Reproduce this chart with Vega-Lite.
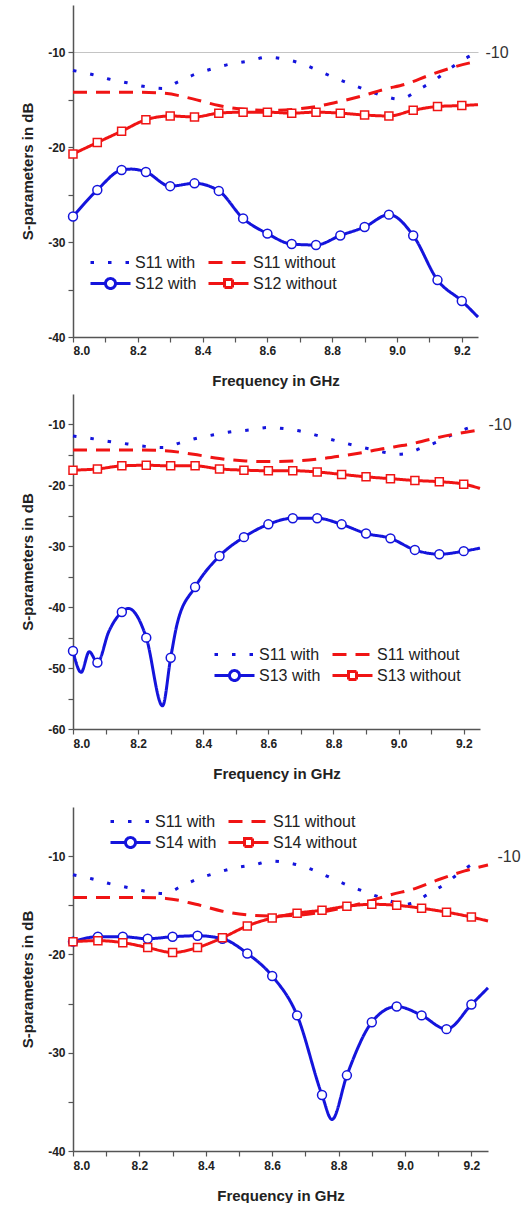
{
"$schema": "https://vega.github.io/schema/vega-lite/v6.json",
"padding": {"left": 20, "top": 5, "right": 5, "bottom": 0},
"config": {
  "view": {"stroke": null},
  "axis": {"labelFont": "Liberation Sans", "labelFontWeight": "bold", "labelFontSize": 12, "labelColor": "#222", "titleFont": "Liberation Sans", "titleFontWeight": "bold", "titleFontSize": 15, "titleColor": "#222", "domainColor": "#555", "domainWidth": 1.5, "tickColor": "#555", "tickSize": 5, "tickWidth": 1.2, "grid": false},
  "legend": {"labelFont": "Liberation Sans", "labelFontSize": 16, "labelColor": "#222", "symbolSize": 1600, "symbolStrokeWidth": 3, "symbolFillColor": "white", "clipHeight": 21, "labelOffset": 3, "columns": 2, "direction": "horizontal", "columnPadding": 10, "rowPadding": 0, "orient": "none"}
},
"datasets": {
  "s11": [
    {"s": "S11 with", "f": 8.0, "v": -11.9}, {"s": "S11 with", "f": 8.056, "v": -12.3}, {"s": "S11 with", "f": 8.11, "v": -12.8}, {"s": "S11 with", "f": 8.167, "v": -13.2}, {"s": "S11 with", "f": 8.222, "v": -13.6}, {"s": "S11 with", "f": 8.278, "v": -13.8}, {"s": "S11 with", "f": 8.324, "v": -13.1}, {"s": "S11 with", "f": 8.377, "v": -12.3}, {"s": "S11 with", "f": 8.432, "v": -11.7}, {"s": "S11 with", "f": 8.488, "v": -11.2}, {"s": "S11 with", "f": 8.543, "v": -10.9}, {"s": "S11 with", "f": 8.6, "v": -10.5}, {"s": "S11 with", "f": 8.651, "v": -10.7}, {"s": "S11 with", "f": 8.707, "v": -11.2}, {"s": "S11 with", "f": 8.756, "v": -11.9}, {"s": "S11 with", "f": 8.809, "v": -12.7}, {"s": "S11 with", "f": 8.861, "v": -13.4}, {"s": "S11 with", "f": 8.917, "v": -14.1}, {"s": "S11 with", "f": 8.969, "v": -14.7}, {"s": "S11 with", "f": 9.0, "v": -14.9}, {"s": "S11 with", "f": 9.022, "v": -14.8}, {"s": "S11 with", "f": 9.068, "v": -13.9}, {"s": "S11 with", "f": 9.117, "v": -12.9}, {"s": "S11 with", "f": 9.16, "v": -11.8}, {"s": "S11 with", "f": 9.213, "v": -10.6}, {"s": "S11 with", "f": 9.23, "v": -10.3},
    {"s": "S11 without", "f": 8.0, "v": -14.2}, {"s": "S11 without", "f": 8.1, "v": -14.2}, {"s": "S11 without", "f": 8.2, "v": -14.2}, {"s": "S11 without", "f": 8.28, "v": -14.3}, {"s": "S11 without", "f": 8.37, "v": -14.9}, {"s": "S11 without", "f": 8.45, "v": -15.6}, {"s": "S11 without", "f": 8.53, "v": -16.0}, {"s": "S11 without", "f": 8.6, "v": -16.1}, {"s": "S11 without", "f": 8.68, "v": -16.0}, {"s": "S11 without", "f": 8.75, "v": -15.7}, {"s": "S11 without", "f": 8.82, "v": -15.2}, {"s": "S11 without", "f": 8.89, "v": -14.6}, {"s": "S11 without", "f": 8.96, "v": -13.9}, {"s": "S11 without", "f": 9.03, "v": -13.3}, {"s": "S11 without", "f": 9.1, "v": -12.4}, {"s": "S11 without", "f": 9.18, "v": -11.5}, {"s": "S11 without", "f": 9.25, "v": -10.9}
  ],
  "p1": [
    {"s": "S12 with", "f": 8.0, "v": -27.3}, {"s": "S12 with", "f": 8.075, "v": -24.5}, {"s": "S12 with", "f": 8.15, "v": -22.4}, {"s": "S12 with", "f": 8.18, "v": -22.3}, {"s": "S12 with", "f": 8.225, "v": -22.6}, {"s": "S12 with", "f": 8.3, "v": -24.1}, {"s": "S12 with", "f": 8.375, "v": -23.8}, {"s": "S12 with", "f": 8.45, "v": -24.6}, {"s": "S12 with", "f": 8.525, "v": -27.5}, {"s": "S12 with", "f": 8.6, "v": -29.1}, {"s": "S12 with", "f": 8.675, "v": -30.2}, {"s": "S12 with", "f": 8.75, "v": -30.3}, {"s": "S12 with", "f": 8.825, "v": -29.3}, {"s": "S12 with", "f": 8.9, "v": -28.4}, {"s": "S12 with", "f": 8.975, "v": -27.1}, {"s": "S12 with", "f": 9.05, "v": -29.3}, {"s": "S12 with", "f": 9.125, "v": -34.0}, {"s": "S12 with", "f": 9.2, "v": -36.2}, {"s": "S12 with", "f": 9.25, "v": -37.9},
    {"s": "S12 without", "f": 8.0, "v": -20.7}, {"s": "S12 without", "f": 8.075, "v": -19.5}, {"s": "S12 without", "f": 8.15, "v": -18.3}, {"s": "S12 without", "f": 8.225, "v": -17.1}, {"s": "S12 without", "f": 8.3, "v": -16.7}, {"s": "S12 without", "f": 8.375, "v": -16.8}, {"s": "S12 without", "f": 8.45, "v": -16.4}, {"s": "S12 without", "f": 8.525, "v": -16.3}, {"s": "S12 without", "f": 8.6, "v": -16.3}, {"s": "S12 without", "f": 8.675, "v": -16.4}, {"s": "S12 without", "f": 8.75, "v": -16.3}, {"s": "S12 without", "f": 8.825, "v": -16.4}, {"s": "S12 without", "f": 8.9, "v": -16.6}, {"s": "S12 without", "f": 8.975, "v": -16.7}, {"s": "S12 without", "f": 9.05, "v": -16.1}, {"s": "S12 without", "f": 9.125, "v": -15.7}, {"s": "S12 without", "f": 9.2, "v": -15.6}, {"s": "S12 without", "f": 9.25, "v": -15.5}
  ],
  "p2": [
    {"s": "S13 with", "f": 8.0, "v": -47.2}, {"s": "S13 with", "f": 8.025, "v": -50.7}, {"s": "S13 with", "f": 8.05, "v": -47.3}, {"s": "S13 with", "f": 8.075, "v": -49.1}, {"s": "S13 with", "f": 8.11, "v": -44.0}, {"s": "S13 with", "f": 8.15, "v": -40.8}, {"s": "S13 with", "f": 8.17, "v": -40.2}, {"s": "S13 with", "f": 8.225, "v": -45.0}, {"s": "S13 with", "f": 8.275, "v": -56.2}, {"s": "S13 with", "f": 8.3, "v": -48.3}, {"s": "S13 with", "f": 8.32, "v": -42.7}, {"s": "S13 with", "f": 8.375, "v": -36.7}, {"s": "S13 with", "f": 8.45, "v": -31.6}, {"s": "S13 with", "f": 8.525, "v": -28.5}, {"s": "S13 with", "f": 8.6, "v": -26.4}, {"s": "S13 with", "f": 8.675, "v": -25.4}, {"s": "S13 with", "f": 8.75, "v": -25.4}, {"s": "S13 with", "f": 8.825, "v": -26.4}, {"s": "S13 with", "f": 8.9, "v": -27.9}, {"s": "S13 with", "f": 8.975, "v": -28.7}, {"s": "S13 with", "f": 9.05, "v": -30.6}, {"s": "S13 with", "f": 9.125, "v": -31.3}, {"s": "S13 with", "f": 9.2, "v": -30.8}, {"s": "S13 with", "f": 9.25, "v": -30.3},
    {"s": "S13 without", "f": 8.0, "v": -17.5}, {"s": "S13 without", "f": 8.075, "v": -17.3}, {"s": "S13 without", "f": 8.15, "v": -16.8}, {"s": "S13 without", "f": 8.225, "v": -16.7}, {"s": "S13 without", "f": 8.3, "v": -16.8}, {"s": "S13 without", "f": 8.375, "v": -16.8}, {"s": "S13 without", "f": 8.45, "v": -17.3}, {"s": "S13 without", "f": 8.525, "v": -17.5}, {"s": "S13 without", "f": 8.6, "v": -17.6}, {"s": "S13 without", "f": 8.675, "v": -17.6}, {"s": "S13 without", "f": 8.75, "v": -17.8}, {"s": "S13 without", "f": 8.825, "v": -18.2}, {"s": "S13 without", "f": 8.9, "v": -18.6}, {"s": "S13 without", "f": 8.975, "v": -18.9}, {"s": "S13 without", "f": 9.05, "v": -19.2}, {"s": "S13 without", "f": 9.125, "v": -19.4}, {"s": "S13 without", "f": 9.2, "v": -19.8}, {"s": "S13 without", "f": 9.25, "v": -20.5}
  ],
  "p3": [
    {"s": "S14 with", "f": 8.0, "v": -18.7}, {"s": "S14 with", "f": 8.075, "v": -18.2}, {"s": "S14 with", "f": 8.15, "v": -18.2}, {"s": "S14 with", "f": 8.225, "v": -18.4}, {"s": "S14 with", "f": 8.3, "v": -18.2}, {"s": "S14 with", "f": 8.375, "v": -18.1}, {"s": "S14 with", "f": 8.45, "v": -18.4}, {"s": "S14 with", "f": 8.525, "v": -19.9}, {"s": "S14 with", "f": 8.6, "v": -22.2}, {"s": "S14 with", "f": 8.675, "v": -26.2}, {"s": "S14 with", "f": 8.75, "v": -34.3}, {"s": "S14 with", "f": 8.78, "v": -36.8}, {"s": "S14 with", "f": 8.825, "v": -32.3}, {"s": "S14 with", "f": 8.9, "v": -26.9}, {"s": "S14 with", "f": 8.975, "v": -25.3}, {"s": "S14 with", "f": 9.05, "v": -26.2}, {"s": "S14 with", "f": 9.125, "v": -27.6}, {"s": "S14 with", "f": 9.2, "v": -25.1}, {"s": "S14 with", "f": 9.25, "v": -23.4},
    {"s": "S14 without", "f": 8.0, "v": -18.7}, {"s": "S14 without", "f": 8.075, "v": -18.6}, {"s": "S14 without", "f": 8.15, "v": -18.8}, {"s": "S14 without", "f": 8.225, "v": -19.3}, {"s": "S14 without", "f": 8.3, "v": -19.8}, {"s": "S14 without", "f": 8.375, "v": -19.3}, {"s": "S14 without", "f": 8.45, "v": -18.3}, {"s": "S14 without", "f": 8.525, "v": -17.1}, {"s": "S14 without", "f": 8.6, "v": -16.3}, {"s": "S14 without", "f": 8.675, "v": -15.8}, {"s": "S14 without", "f": 8.75, "v": -15.5}, {"s": "S14 without", "f": 8.825, "v": -15.1}, {"s": "S14 without", "f": 8.9, "v": -14.9}, {"s": "S14 without", "f": 8.975, "v": -15.0}, {"s": "S14 without", "f": 9.05, "v": -15.3}, {"s": "S14 without", "f": 9.125, "v": -15.7}, {"s": "S14 without", "f": 9.2, "v": -16.2}, {"s": "S14 without", "f": 9.25, "v": -16.6}
  ]
},
"resolve": {"scale": {"x": "independent", "y": "independent", "color": "independent", "strokeDash": "independent"}, "legend": {"color": "independent", "strokeDash": "independent"}},
"spacing": 26,
"vconcat": [
 {
  "spacing": 6,
  "resolve": {"scale": {"x": "independent", "y": "independent", "color": "independent", "strokeDash": "independent"}, "legend": {"color": "independent", "strokeDash": "independent"}},
  "vconcat": [
   {
    "width": 405, "height": 332,
    "resolve": {"axis": {"y": "independent"}},
    "layer": [
     {"data": {"name": "s11"}, "mark": {"type": "line", "interpolate": "monotone", "strokeWidth": 3},
      "encoding": {
       "x": {"field": "f", "type": "quantitative", "scale": {"domain": [8, 9.25], "nice": false, "zero": false}, "axis": {"values": [8, 8.1, 8.2, 8.3, 8.4, 8.5, 8.6, 8.7, 8.8, 8.9, 9, 9.1, 9.2], "labelExpr": "round(datum.value*10) % 2 === 0 ? format(datum.value, '.1f') : ''", "title": "Frequency in GHz", "labelPadding": 3, "titlePadding": 17}},
       "y": {"field": "v", "type": "quantitative", "scale": {"domain": [-40, -5], "nice": false, "zero": false}, "axis": {"values": [-40, -35, -30, -25, -20, -15, -10], "labelExpr": "datum.value % 10 === 0 ? '-' + abs(datum.value) : ''", "title": "S-parameters in dB", "titlePadding": 12, "labelPadding": 3}},
       "color": {"field": "s", "type": "nominal", "scale": {"domain": ["S11 with", "S11 without", "S12 with", "S12 without"], "range": ["#1414dc", "#f01414", "#1414dc", "#f01414"]}, "legend": {"title": null, "legendX": 16, "legendY": 247, "encode": {"symbols": {"update": {"shape": {"signal": "['M-1,0H1','M-1,0H1','M-1,0H-0.25M0.25,0H1M-0.25,0A0.25,0.25,0,1,0,0.25,0A0.25,0.25,0,1,0,-0.25,0Z','M-1,0H-0.2M0.2,0H1M-0.2,-0.2H0.2V0.2H-0.2Z'][datum.index]"}, "fill": {"value": "white"}}}}}},
       "strokeDash": {"field": "s", "type": "nominal", "scale": {"domain": ["S11 with", "S11 without", "S12 with", "S12 without"], "range": [[3.5, 14], [14, 9], [1, 0], [1, 0]]}, "legend": {"title": null, "legendX": 16, "legendY": 247, "encode": {"symbols": {"update": {"shape": {"signal": "['M-1,0H1','M-1,0H1','M-1,0H-0.25M0.25,0H1M-0.25,0A0.25,0.25,0,1,0,0.25,0A0.25,0.25,0,1,0,-0.25,0Z','M-1,0H-0.2M0.2,0H1M-0.2,-0.2H0.2V0.2H-0.2Z'][datum.index]"}, "fill": {"value": "white"}}}}}}
      }},
     {"data": {"name": "p1"}, "mark": {"type": "line", "interpolate": "monotone", "strokeWidth": 3},
      "encoding": {
       "x": {"field": "f", "type": "quantitative", "scale": {"domain": [8, 9.25], "nice": false, "zero": false}, "axis": {"values": [8, 8.1, 8.2, 8.3, 8.4, 8.5, 8.6, 8.7, 8.8, 8.9, 9, 9.1, 9.2], "labelExpr": "round(datum.value*10) % 2 === 0 ? format(datum.value, '.1f') : ''", "title": "Frequency in GHz", "labelPadding": 3, "titlePadding": 17}},
       "y": {"field": "v", "type": "quantitative", "scale": {"domain": [-40, -5], "nice": false, "zero": false}, "axis": null},
       "color": {"field": "s", "type": "nominal", "scale": {"domain": ["S11 with", "S11 without", "S12 with", "S12 without"], "range": ["#1414dc", "#f01414", "#1414dc", "#f01414"]}, "legend": {"title": null, "legendX": 16, "legendY": 247, "encode": {"symbols": {"update": {"shape": {"signal": "['M-1,0H1','M-1,0H1','M-1,0H-0.25M0.25,0H1M-0.25,0A0.25,0.25,0,1,0,0.25,0A0.25,0.25,0,1,0,-0.25,0Z','M-1,0H-0.2M0.2,0H1M-0.2,-0.2H0.2V0.2H-0.2Z'][datum.index]"}, "fill": {"value": "white"}}}}}},
       "strokeDash": {"field": "s", "type": "nominal", "scale": {"domain": ["S11 with", "S11 without", "S12 with", "S12 without"], "range": [[3.5, 14], [14, 9], [1, 0], [1, 0]]}, "legend": {"title": null, "legendX": 16, "legendY": 247, "encode": {"symbols": {"update": {"shape": {"signal": "['M-1,0H1','M-1,0H1','M-1,0H-0.25M0.25,0H1M-0.25,0A0.25,0.25,0,1,0,0.25,0A0.25,0.25,0,1,0,-0.25,0Z','M-1,0H-0.2M0.2,0H1M-0.2,-0.2H0.2V0.2H-0.2Z'][datum.index]"}, "fill": {"value": "white"}}}}}}
      }},
     {"data": {"name": "p1"}, "transform": [{"filter": "abs((datum.f-8)/0.075 - round((datum.f-8)/0.075)) < 0.01 && datum.f < 9.21"}, {"filter": "indexof(datum.s, 'without') < 0"}],
      "mark": {"type": "point", "shape": "circle", "filled": false, "fill": "white", "fillOpacity": 1, "stroke": "#1414dc", "strokeWidth": 1.5, "size": 80, "opacity": 1},
      "encoding": {
       "x": {"field": "f", "type": "quantitative", "scale": {"domain": [8, 9.25], "nice": false, "zero": false}, "axis": {"values": [8, 8.1, 8.2, 8.3, 8.4, 8.5, 8.6, 8.7, 8.8, 8.9, 9, 9.1, 9.2], "labelExpr": "round(datum.value*10) % 2 === 0 ? format(datum.value, '.1f') : ''", "title": "Frequency in GHz", "labelPadding": 3, "titlePadding": 17}},
       "y": {"field": "v", "type": "quantitative", "scale": {"domain": [-40, -5], "nice": false, "zero": false}, "axis": {"orient": "right", "values": [-10], "labelExpr": "'-' + abs(datum.value)", "ticks": false, "domain": false, "title": null, "labelFontWeight": "normal", "labelFontSize": 16, "labelColor": "#333", "labelPadding": 7, "grid": true, "gridColor": "#c4c4c4", "gridWidth": 1}}
      }},
     {"data": {"name": "p1"}, "transform": [{"filter": "abs((datum.f-8)/0.075 - round((datum.f-8)/0.075)) < 0.01 && datum.f < 9.21"}, {"filter": "indexof(datum.s, 'without') >= 0"}],
      "mark": {"type": "point", "shape": "square", "filled": false, "fill": "white", "fillOpacity": 1, "stroke": "#f01414", "strokeWidth": 1.5, "size": 64, "opacity": 1},
      "encoding": {
       "x": {"field": "f", "type": "quantitative", "scale": {"domain": [8, 9.25], "nice": false, "zero": false}, "axis": {"values": [8, 8.1, 8.2, 8.3, 8.4, 8.5, 8.6, 8.7, 8.8, 8.9, 9, 9.1, 9.2], "labelExpr": "round(datum.value*10) % 2 === 0 ? format(datum.value, '.1f') : ''", "title": "Frequency in GHz", "labelPadding": 3, "titlePadding": 17}},
       "y": {"field": "v", "type": "quantitative", "scale": {"domain": [-40, -5], "nice": false, "zero": false}, "axis": null}
      }}
    ]
   },
   {
    "width": 407, "height": 335,
    "resolve": {"axis": {"y": "independent"}},
    "layer": [
     {"data": {"name": "s11"}, "mark": {"type": "line", "interpolate": "monotone", "strokeWidth": 3},
      "encoding": {
       "x": {"field": "f", "type": "quantitative", "scale": {"domain": [8, 9.25], "nice": false, "zero": false}, "axis": {"values": [8, 8.1, 8.2, 8.3, 8.4, 8.5, 8.6, 8.7, 8.8, 8.9, 9, 9.1, 9.2], "labelExpr": "round(datum.value*10) % 2 === 0 ? format(datum.value, '.1f') : ''", "title": "Frequency in GHz", "labelPadding": 4, "titlePadding": 17}},
       "y": {"field": "v", "type": "quantitative", "scale": {"domain": [-60, -5], "nice": false, "zero": false}, "axis": {"values": [-60, -55, -50, -45, -40, -35, -30, -25, -20, -15, -10], "labelExpr": "datum.value % 10 === 0 ? '-' + abs(datum.value) : ''", "title": "S-parameters in dB", "titlePadding": 12, "labelPadding": 3}},
       "color": {"field": "s", "type": "nominal", "scale": {"domain": ["S11 with", "S11 without", "S13 with", "S13 without"], "range": ["#1414dc", "#f01414", "#1414dc", "#f01414"]}, "legend": {"title": null, "legendX": 140, "legendY": 250, "encode": {"symbols": {"update": {"shape": {"signal": "['M-1,0H1','M-1,0H1','M-1,0H-0.25M0.25,0H1M-0.25,0A0.25,0.25,0,1,0,0.25,0A0.25,0.25,0,1,0,-0.25,0Z','M-1,0H-0.2M0.2,0H1M-0.2,-0.2H0.2V0.2H-0.2Z'][datum.index]"}, "fill": {"value": "white"}}}}}},
       "strokeDash": {"field": "s", "type": "nominal", "scale": {"domain": ["S11 with", "S11 without", "S13 with", "S13 without"], "range": [[3.5, 14], [14, 9], [1, 0], [1, 0]]}, "legend": {"title": null, "legendX": 140, "legendY": 250, "encode": {"symbols": {"update": {"shape": {"signal": "['M-1,0H1','M-1,0H1','M-1,0H-0.25M0.25,0H1M-0.25,0A0.25,0.25,0,1,0,0.25,0A0.25,0.25,0,1,0,-0.25,0Z','M-1,0H-0.2M0.2,0H1M-0.2,-0.2H0.2V0.2H-0.2Z'][datum.index]"}, "fill": {"value": "white"}}}}}}
      }},
     {"data": {"name": "p2"}, "mark": {"type": "line", "interpolate": "monotone", "strokeWidth": 3},
      "encoding": {
       "x": {"field": "f", "type": "quantitative", "scale": {"domain": [8, 9.25], "nice": false, "zero": false}, "axis": {"values": [8, 8.1, 8.2, 8.3, 8.4, 8.5, 8.6, 8.7, 8.8, 8.9, 9, 9.1, 9.2], "labelExpr": "round(datum.value*10) % 2 === 0 ? format(datum.value, '.1f') : ''", "title": "Frequency in GHz", "labelPadding": 4, "titlePadding": 17}},
       "y": {"field": "v", "type": "quantitative", "scale": {"domain": [-60, -5], "nice": false, "zero": false}, "axis": null},
       "color": {"field": "s", "type": "nominal", "scale": {"domain": ["S11 with", "S11 without", "S13 with", "S13 without"], "range": ["#1414dc", "#f01414", "#1414dc", "#f01414"]}, "legend": {"title": null, "legendX": 140, "legendY": 250, "encode": {"symbols": {"update": {"shape": {"signal": "['M-1,0H1','M-1,0H1','M-1,0H-0.25M0.25,0H1M-0.25,0A0.25,0.25,0,1,0,0.25,0A0.25,0.25,0,1,0,-0.25,0Z','M-1,0H-0.2M0.2,0H1M-0.2,-0.2H0.2V0.2H-0.2Z'][datum.index]"}, "fill": {"value": "white"}}}}}},
       "strokeDash": {"field": "s", "type": "nominal", "scale": {"domain": ["S11 with", "S11 without", "S13 with", "S13 without"], "range": [[3.5, 14], [14, 9], [1, 0], [1, 0]]}, "legend": {"title": null, "legendX": 140, "legendY": 250, "encode": {"symbols": {"update": {"shape": {"signal": "['M-1,0H1','M-1,0H1','M-1,0H-0.25M0.25,0H1M-0.25,0A0.25,0.25,0,1,0,0.25,0A0.25,0.25,0,1,0,-0.25,0Z','M-1,0H-0.2M0.2,0H1M-0.2,-0.2H0.2V0.2H-0.2Z'][datum.index]"}, "fill": {"value": "white"}}}}}}
      }},
     {"data": {"name": "p2"}, "transform": [{"filter": "abs((datum.f-8)/0.075 - round((datum.f-8)/0.075)) < 0.01 && datum.f < 9.21"}, {"filter": "indexof(datum.s, 'without') < 0"}],
      "mark": {"type": "point", "shape": "circle", "filled": false, "fill": "white", "fillOpacity": 1, "stroke": "#1414dc", "strokeWidth": 1.5, "size": 80, "opacity": 1},
      "encoding": {
       "x": {"field": "f", "type": "quantitative", "scale": {"domain": [8, 9.25], "nice": false, "zero": false}, "axis": {"values": [8, 8.1, 8.2, 8.3, 8.4, 8.5, 8.6, 8.7, 8.8, 8.9, 9, 9.1, 9.2], "labelExpr": "round(datum.value*10) % 2 === 0 ? format(datum.value, '.1f') : ''", "title": "Frequency in GHz", "labelPadding": 4, "titlePadding": 17}},
       "y": {"field": "v", "type": "quantitative", "scale": {"domain": [-60, -5], "nice": false, "zero": false}, "axis": {"orient": "right", "values": [-10], "labelExpr": "'-' + abs(datum.value)", "ticks": false, "domain": false, "title": null, "labelFontWeight": "normal", "labelFontSize": 16, "labelColor": "#333", "labelPadding": 8, "grid": false}}
      }},
     {"data": {"name": "p2"}, "transform": [{"filter": "abs((datum.f-8)/0.075 - round((datum.f-8)/0.075)) < 0.01 && datum.f < 9.21"}, {"filter": "indexof(datum.s, 'without') >= 0"}],
      "mark": {"type": "point", "shape": "square", "filled": false, "fill": "white", "fillOpacity": 1, "stroke": "#f01414", "strokeWidth": 1.5, "size": 64, "opacity": 1},
      "encoding": {
       "x": {"field": "f", "type": "quantitative", "scale": {"domain": [8, 9.25], "nice": false, "zero": false}, "axis": {"values": [8, 8.1, 8.2, 8.3, 8.4, 8.5, 8.6, 8.7, 8.8, 8.9, 9, 9.1, 9.2], "labelExpr": "round(datum.value*10) % 2 === 0 ? format(datum.value, '.1f') : ''", "title": "Frequency in GHz", "labelPadding": 4, "titlePadding": 17}},
       "y": {"field": "v", "type": "quantitative", "scale": {"domain": [-60, -5], "nice": false, "zero": false}, "axis": null}
      }}
    ]
   }
  ]
 },
 {
  "width": 415, "height": 344,
  "resolve": {"axis": {"y": "independent"}},
  "layer": [
   {"data": {"name": "s11"}, "mark": {"type": "line", "interpolate": "monotone", "strokeWidth": 3},
    "encoding": {
     "x": {"field": "f", "type": "quantitative", "scale": {"domain": [8, 9.25], "nice": false, "zero": false}, "axis": {"values": [8, 8.1, 8.2, 8.3, 8.4, 8.5, 8.6, 8.7, 8.8, 8.9, 9, 9.1, 9.2], "labelExpr": "round(datum.value*10) % 2 === 0 ? format(datum.value, '.1f') : ''", "title": "Frequency in GHz", "labelPadding": 4, "titlePadding": 17}},
     "y": {"field": "v", "type": "quantitative", "scale": {"domain": [-40, -5], "nice": false, "zero": false}, "axis": {"values": [-40, -35, -30, -25, -20, -15, -10], "labelExpr": "datum.value % 10 === 0 ? '-' + abs(datum.value) : ''", "title": "S-parameters in dB", "titlePadding": 12, "labelPadding": 3}},
     "color": {"field": "s", "type": "nominal", "scale": {"domain": ["S11 with", "S11 without", "S14 with", "S14 without"], "range": ["#1414dc", "#f01414", "#1414dc", "#f01414"]}, "legend": {"title": null, "legendX": 36, "legendY": 4, "encode": {"symbols": {"update": {"shape": {"signal": "['M-1,0H1','M-1,0H1','M-1,0H-0.25M0.25,0H1M-0.25,0A0.25,0.25,0,1,0,0.25,0A0.25,0.25,0,1,0,-0.25,0Z','M-1,0H-0.2M0.2,0H1M-0.2,-0.2H0.2V0.2H-0.2Z'][datum.index]"}, "fill": {"value": "white"}}}}}},
     "strokeDash": {"field": "s", "type": "nominal", "scale": {"domain": ["S11 with", "S11 without", "S14 with", "S14 without"], "range": [[3.5, 14], [14, 9], [1, 0], [1, 0]]}, "legend": {"title": null, "legendX": 36, "legendY": 4, "encode": {"symbols": {"update": {"shape": {"signal": "['M-1,0H1','M-1,0H1','M-1,0H-0.25M0.25,0H1M-0.25,0A0.25,0.25,0,1,0,0.25,0A0.25,0.25,0,1,0,-0.25,0Z','M-1,0H-0.2M0.2,0H1M-0.2,-0.2H0.2V0.2H-0.2Z'][datum.index]"}, "fill": {"value": "white"}}}}}}
    }},
   {"data": {"name": "p3"}, "mark": {"type": "line", "interpolate": "monotone", "strokeWidth": 3},
    "encoding": {
     "x": {"field": "f", "type": "quantitative", "scale": {"domain": [8, 9.25], "nice": false, "zero": false}, "axis": {"values": [8, 8.1, 8.2, 8.3, 8.4, 8.5, 8.6, 8.7, 8.8, 8.9, 9, 9.1, 9.2], "labelExpr": "round(datum.value*10) % 2 === 0 ? format(datum.value, '.1f') : ''", "title": "Frequency in GHz", "labelPadding": 4, "titlePadding": 17}},
     "y": {"field": "v", "type": "quantitative", "scale": {"domain": [-40, -5], "nice": false, "zero": false}, "axis": null},
     "color": {"field": "s", "type": "nominal", "scale": {"domain": ["S11 with", "S11 without", "S14 with", "S14 without"], "range": ["#1414dc", "#f01414", "#1414dc", "#f01414"]}, "legend": {"title": null, "legendX": 36, "legendY": 4, "encode": {"symbols": {"update": {"shape": {"signal": "['M-1,0H1','M-1,0H1','M-1,0H-0.25M0.25,0H1M-0.25,0A0.25,0.25,0,1,0,0.25,0A0.25,0.25,0,1,0,-0.25,0Z','M-1,0H-0.2M0.2,0H1M-0.2,-0.2H0.2V0.2H-0.2Z'][datum.index]"}, "fill": {"value": "white"}}}}}},
     "strokeDash": {"field": "s", "type": "nominal", "scale": {"domain": ["S11 with", "S11 without", "S14 with", "S14 without"], "range": [[3.5, 14], [14, 9], [1, 0], [1, 0]]}, "legend": {"title": null, "legendX": 36, "legendY": 4, "encode": {"symbols": {"update": {"shape": {"signal": "['M-1,0H1','M-1,0H1','M-1,0H-0.25M0.25,0H1M-0.25,0A0.25,0.25,0,1,0,0.25,0A0.25,0.25,0,1,0,-0.25,0Z','M-1,0H-0.2M0.2,0H1M-0.2,-0.2H0.2V0.2H-0.2Z'][datum.index]"}, "fill": {"value": "white"}}}}}}
    }},
   {"data": {"name": "p3"}, "transform": [{"filter": "abs((datum.f-8)/0.075 - round((datum.f-8)/0.075)) < 0.01 && datum.f < 9.21"}, {"filter": "indexof(datum.s, 'without') < 0"}],
    "mark": {"type": "point", "shape": "circle", "filled": false, "fill": "white", "fillOpacity": 1, "stroke": "#1414dc", "strokeWidth": 1.5, "size": 80, "opacity": 1},
    "encoding": {
     "x": {"field": "f", "type": "quantitative", "scale": {"domain": [8, 9.25], "nice": false, "zero": false}, "axis": {"values": [8, 8.1, 8.2, 8.3, 8.4, 8.5, 8.6, 8.7, 8.8, 8.9, 9, 9.1, 9.2], "labelExpr": "round(datum.value*10) % 2 === 0 ? format(datum.value, '.1f') : ''", "title": "Frequency in GHz", "labelPadding": 4, "titlePadding": 17}},
     "y": {"field": "v", "type": "quantitative", "scale": {"domain": [-40, -5], "nice": false, "zero": false}, "axis": {"orient": "right", "values": [-10], "labelExpr": "'-' + abs(datum.value)", "ticks": false, "domain": false, "title": null, "labelFontWeight": "normal", "labelFontSize": 16, "labelColor": "#333", "labelPadding": 9, "grid": false}}
    }},
   {"data": {"name": "p3"}, "transform": [{"filter": "abs((datum.f-8)/0.075 - round((datum.f-8)/0.075)) < 0.01 && datum.f < 9.21"}, {"filter": "indexof(datum.s, 'without') >= 0"}],
    "mark": {"type": "point", "shape": "square", "filled": false, "fill": "white", "fillOpacity": 1, "stroke": "#f01414", "strokeWidth": 1.5, "size": 64, "opacity": 1},
    "encoding": {
     "x": {"field": "f", "type": "quantitative", "scale": {"domain": [8, 9.25], "nice": false, "zero": false}, "axis": {"values": [8, 8.1, 8.2, 8.3, 8.4, 8.5, 8.6, 8.7, 8.8, 8.9, 9, 9.1, 9.2], "labelExpr": "round(datum.value*10) % 2 === 0 ? format(datum.value, '.1f') : ''", "title": "Frequency in GHz", "labelPadding": 4, "titlePadding": 17}},
     "y": {"field": "v", "type": "quantitative", "scale": {"domain": [-40, -5], "nice": false, "zero": false}, "axis": null}
    }}
  ]
 }
]
}
